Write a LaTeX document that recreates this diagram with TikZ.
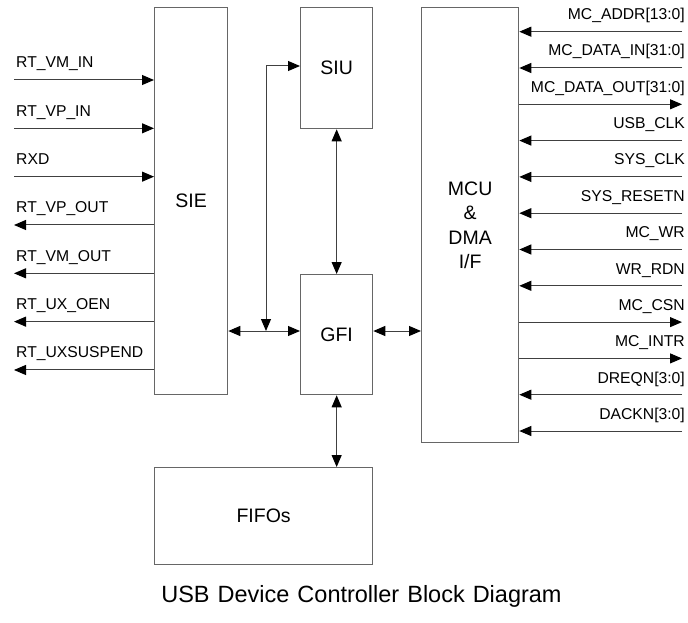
\documentclass[tikz,border=0pt]{standalone}
\usepackage{fontspec}
\setmainfont{Liberation Sans}
\usetikzlibrary{arrows.meta}
\begin{document}
\begin{tikzpicture}[x=1pt,y=-1pt,
  blk/.style={draw=black!60, line width=1.3pt, fill=white, inner sep=0pt, anchor=north west, font=\fontsize{19.5}{24.5}\selectfont, align=center},
  conn/.style={line width=1pt, black!75, >={Triangle[length=12pt,width=10pt,color=black]}},
  sig/.style={font=\fontsize{15.7}{18}\selectfont, inner sep=0pt}]
\useasboundingbox (0,0) rectangle (688,623);

% blocks
\node[blk, minimum width=73pt, minimum height=387pt] (sie) at (154,7) {SIE};
\node[blk, minimum width=72pt, minimum height=121pt] (siu) at (300,7) {SIU};
\node[blk, minimum width=72pt, minimum height=120pt] (gfi) at (300,274) {GFI};
\node[blk, minimum width=97pt, minimum height=435pt] (mcu) at (421,7) {MCU\\\&\\DMA\\I/F};
\node[blk, minimum width=218pt, minimum height=97pt] (fifo) at (154,467) {FIFOs};

% left signals
\foreach \i/\name in {0/RT\_VM\_IN, 1/RT\_VP\_IN, 2/RXD, 3/RT\_VP\_OUT, 4/RT\_VM\_OUT, 5/RT\_UX\_OEN, 6/RT\_UXSUSPEND}{
  \coordinate (L\i) at (14,{80+48.33*\i});
  \node[sig, anchor=base west] (Ll\i) at (16,{68+48.33*\i}) {\name};
}
\foreach \i in {0,1,2}{ \draw[conn,->] (L\i) -- (L\i -| sie.west); }
\foreach \i in {3,4,5,6}{ \draw[conn,<-] (L\i) -- (L\i -| sie.west); }

% right signals
\foreach \i/\name in {0/MC\_ADDR[13:0], 1/MC\_DATA\_IN[31:0], 2/MC\_DATA\_OUT[31:0], 3/USB\_CLK, 4/SYS\_CLK, 5/SYS\_RESETN, 6/MC\_WR, 7/WR\_RDN, 8/MC\_CSN, 9/MC\_INTR, 10/DREQN[3:0], 11/DACKN[3:0]}{
  \coordinate (R\i) at (682,{31.7+36.3*\i});
  \node[sig, anchor=base east] (Rl\i) at (685,{19.3+36.4*\i}) {\name};
}
\foreach \i in {0,1,3,4,5,6,7,10,11}{ \draw[conn,->] (R\i) -- (R\i -| mcu.east); }
\foreach \i in {2,8,9}{ \draw[conn,<-] (R\i) -- (R\i -| mcu.east); }

% internal connections
\coordinate (j) at (266,331);
\coordinate (jt) at (266,66);
\draw[conn,<->] (j -| sie.east) -- (j -| gfi.west);
\draw[conn,<->] (j) -- (jt) -- (jt -| siu.west);
\draw[conn,<->] (siu.south) -- (gfi.north);
\draw[conn,<->] (gfi.south) -- (gfi.south |- fifo.north);
\draw[conn,<->] (j -| gfi.east) -- (j -| mcu.west);

% title
\node[font=\fontsize{23.5}{27}\selectfont, anchor=base, inner sep=0pt] (title) at (361.5,602) {\spaceskip=8pt USB Device Controller Block Diagram};
\end{tikzpicture}
\end{document}
